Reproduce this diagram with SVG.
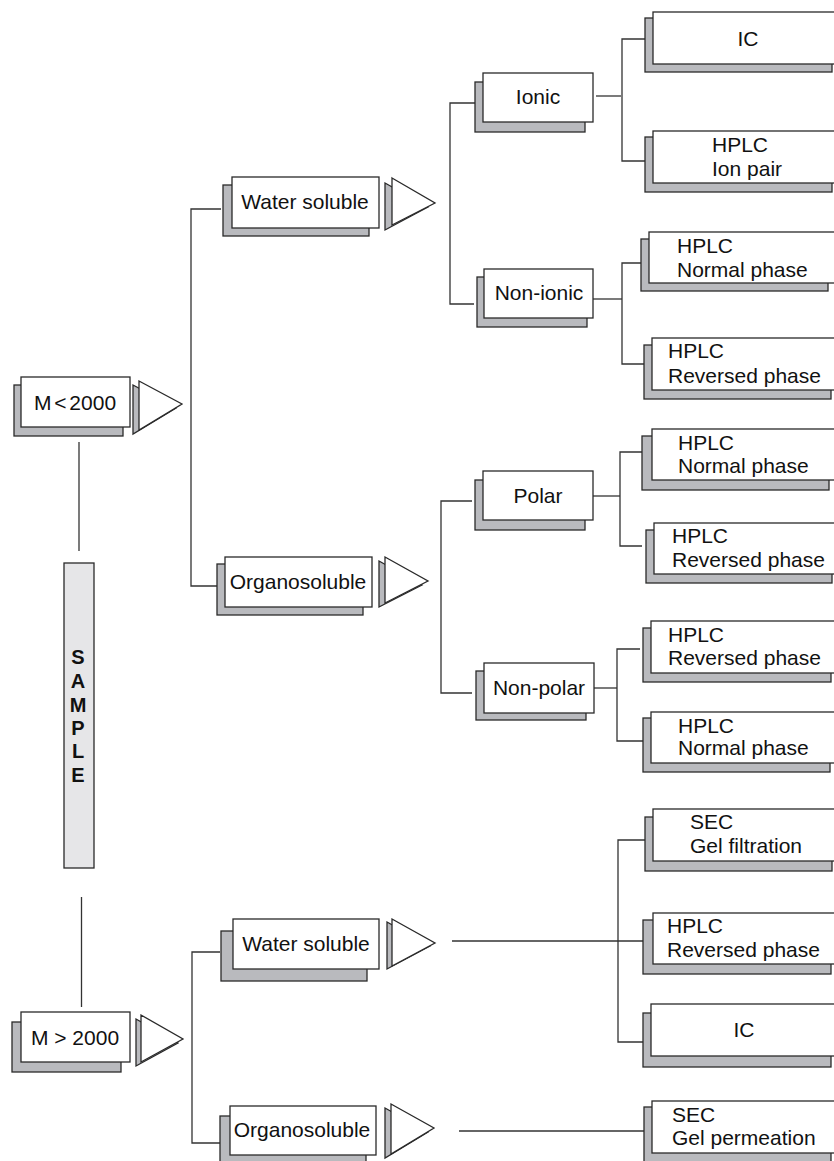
<svg xmlns="http://www.w3.org/2000/svg" width="834" height="1161" viewBox="0 0 834 1161">
<style>
.sh{fill:#b9babe;stroke:#2a2a2a;stroke-width:1.3}
.bx{fill:#ffffff;stroke:#2a2a2a;stroke-width:1.3}
.tri{fill:#ffffff;stroke:#2a2a2a;stroke-width:1.3;stroke-linejoin:miter}
.trs{fill:#b9babe;stroke:#2a2a2a;stroke-width:1.3}
.ln{fill:none;stroke:#333333;stroke-width:1.3}
text{font-family:"Liberation Sans",Arial,sans-serif;font-size:21px;fill:#111111}
.c{text-anchor:middle}
.sm{font-weight:bold;font-size:20px;text-anchor:middle}
</style>
<rect width="834" height="1161" fill="#ffffff"/>

<g id="connectors">
<path class="ln" d="M79,442V551"/>
<path class="ln" d="M81.5,897V1007"/>
<path class="ln" d="M221,209H191V586H217"/>
<path class="ln" d="M475,103H450V304H474"/>
<path class="ln" d="M596,96H621"/>
<path class="ln" d="M645,39H622V161H645"/>
<path class="ln" d="M593,299H622"/>
<path class="ln" d="M649,263H622V364H644"/>
<path class="ln" d="M472,501H441V693H472"/>
<path class="ln" d="M593,496H620"/>
<path class="ln" d="M642,452H620V546H642"/>
<path class="ln" d="M594,688H617"/>
<path class="ln" d="M640,649H617V741H643"/>
<path class="ln" d="M220,952H192V1143H220"/>
<path class="ln" d="M452,941H643"/>
<path class="ln" d="M645,840H618V1042H643"/>
<path class="ln" d="M459,1131H644"/>
</g>

<g id="sample">
<rect x="64" y="563" width="30" height="305" fill="#e6e6e8" stroke="#2a2a2a" stroke-width="1.3"/>
<text class="sm" x="78" y="664">S</text>
<text class="sm" x="78" y="688">A</text>
<text class="sm" x="78" y="712">M</text>
<text class="sm" x="78" y="735">P</text>
<text class="sm" x="78" y="758">L</text>
<text class="sm" x="78" y="782">E</text>
</g>

<g id="m-lt-2000">
<rect class="sh" x="14" y="385" width="109" height="51"/>
<rect class="bx" x="21" y="377" width="109" height="50"/>
<text class="c" x="75" y="410" word-spacing="-3">M &lt; 2000</text>
<polygon class="trs" points="133,385 176,408 133,434"/>
<polygon class="tri" points="139,381 182,404 139,430"/>
</g>

<g id="m-gt-2000">
<rect class="sh" x="12" y="1022" width="109" height="50"/>
<rect class="bx" x="21" y="1012" width="109" height="50"/>
<text class="c" x="75" y="1045">M &gt; 2000</text>
<polygon class="trs" points="136,1019 178,1043 136,1066"/>
<polygon class="tri" points="141,1015 183,1039 141,1062"/>
</g>

<g id="water-soluble-1">
<rect class="sh" x="223" y="185" width="146" height="51"/>
<rect class="bx" x="232" y="177" width="147" height="51"/>
<text class="c" x="305" y="209">Water soluble</text>
<polygon class="trs" points="385,183 428,207 385,230"/>
<polygon class="tri" points="392,178 435,203 392,225"/>
</g>

<g id="organosoluble-1">
<rect class="sh" x="217" y="564" width="146" height="51"/>
<rect class="bx" x="225" y="557" width="147" height="50"/>
<text class="c" x="298" y="589">Organosoluble</text>
<polygon class="trs" points="379,561 422,585 379,607"/>
<polygon class="tri" points="385,557 428,581 385,603"/>
</g>

<g id="water-soluble-2">
<rect class="sh" x="221" y="931" width="146" height="50"/>
<rect class="bx" x="233" y="919" width="146" height="50"/>
<text class="c" x="306" y="951">Water soluble</text>
<polygon class="trs" points="387,922 430,946 387,969"/>
<polygon class="tri" points="392,919 435,943 392,966"/>
</g>

<g id="organosoluble-2">
<rect class="sh" x="220" y="1116" width="146" height="50"/>
<rect class="bx" x="230" y="1106" width="146" height="49"/>
<text class="c" x="302" y="1137">Organosoluble</text>
<polygon class="trs" points="385,1108 428,1132 385,1158"/>
<polygon class="tri" points="391,1104 434,1128 391,1154"/>
</g>

<g id="ionic">
<rect class="sh" x="475" y="82" width="110" height="50"/>
<rect class="bx" x="483" y="73" width="110" height="49"/>
<text class="c" x="538" y="104">Ionic</text>
</g>

<g id="non-ionic">
<rect class="sh" x="477" y="277" width="110" height="50"/>
<rect class="bx" x="484" y="269" width="109" height="49"/>
<text class="c" x="539" y="300">Non-ionic</text>
</g>

<g id="polar">
<rect class="sh" x="475" y="480" width="110" height="50"/>
<rect class="bx" x="483" y="471" width="110" height="49"/>
<text class="c" x="538" y="503">Polar</text>
</g>

<g id="non-polar">
<rect class="sh" x="476" y="671" width="110" height="49"/>
<rect class="bx" x="484" y="663" width="110" height="50"/>
<text class="c" x="539" y="695">Non-polar</text>
</g>

<g id="ic-1">
<rect class="sh" x="645" y="18" width="187" height="54"/>
<rect class="bx" x="653" y="12" width="190" height="52"/>
<text class="c" x="748" y="46">IC</text>
</g>

<g id="hplc-ion-pair">
<rect class="sh" x="645" y="137" width="187" height="55"/>
<rect class="bx" x="653" y="131" width="190" height="52"/>
<text x="712" y="152">HPLC</text>
<text x="712" y="176">Ion pair</text>
</g>

<g id="hplc-normal-1">
<rect class="sh" x="641" y="239" width="187" height="52"/>
<rect class="bx" x="649" y="232" width="194" height="51"/>
<text x="677" y="253">HPLC</text>
<text x="677" y="277">Normal phase</text>
</g>

<g id="hplc-reversed-1">
<rect class="sh" x="644" y="345" width="187" height="54"/>
<rect class="bx" x="652" y="338" width="191" height="52"/>
<text x="668" y="358">HPLC</text>
<text x="668" y="383">Reversed phase</text>
</g>

<g id="hplc-normal-2">
<rect class="sh" x="642" y="436" width="187" height="54"/>
<rect class="bx" x="652" y="429" width="191" height="51"/>
<text x="678" y="450">HPLC</text>
<text x="678" y="473">Normal phase</text>
</g>

<g id="hplc-reversed-2">
<rect class="sh" x="646" y="530" width="186" height="53"/>
<rect class="bx" x="654" y="523" width="189" height="51"/>
<text x="672" y="543">HPLC</text>
<text x="672" y="567">Reversed phase</text>
</g>

<g id="hplc-reversed-3">
<rect class="sh" x="643" y="628" width="188" height="54"/>
<rect class="bx" x="651" y="621" width="192" height="52"/>
<text x="668" y="642">HPLC</text>
<text x="668" y="665">Reversed phase</text>
</g>

<g id="hplc-normal-3">
<rect class="sh" x="643" y="718" width="187" height="54"/>
<rect class="bx" x="651" y="712" width="192" height="51"/>
<text x="678" y="733">HPLC</text>
<text x="678" y="755">Normal phase</text>
</g>

<g id="sec-gel-filtration">
<rect class="sh" x="645" y="817" width="187" height="54"/>
<rect class="bx" x="653" y="809" width="190" height="52"/>
<text x="690" y="829">SEC</text>
<text x="690" y="853">Gel filtration</text>
</g>

<g id="hplc-reversed-4">
<rect class="sh" x="643" y="920" width="188" height="54"/>
<rect class="bx" x="653" y="913" width="190" height="51"/>
<text x="667" y="933">HPLC</text>
<text x="667" y="957">Reversed phase</text>
</g>

<g id="ic-2">
<rect class="sh" x="643" y="1013" width="188" height="54"/>
<rect class="bx" x="651" y="1004" width="192" height="52"/>
<text class="c" x="744" y="1037">IC</text>
</g>

<g id="sec-gel-permeation">
<rect class="sh" x="644" y="1107" width="187" height="60"/>
<rect class="bx" x="652" y="1101" width="191" height="52"/>
<text x="672" y="1122">SEC</text>
<text x="672" y="1145">Gel permeation</text>
</g>
</svg>
